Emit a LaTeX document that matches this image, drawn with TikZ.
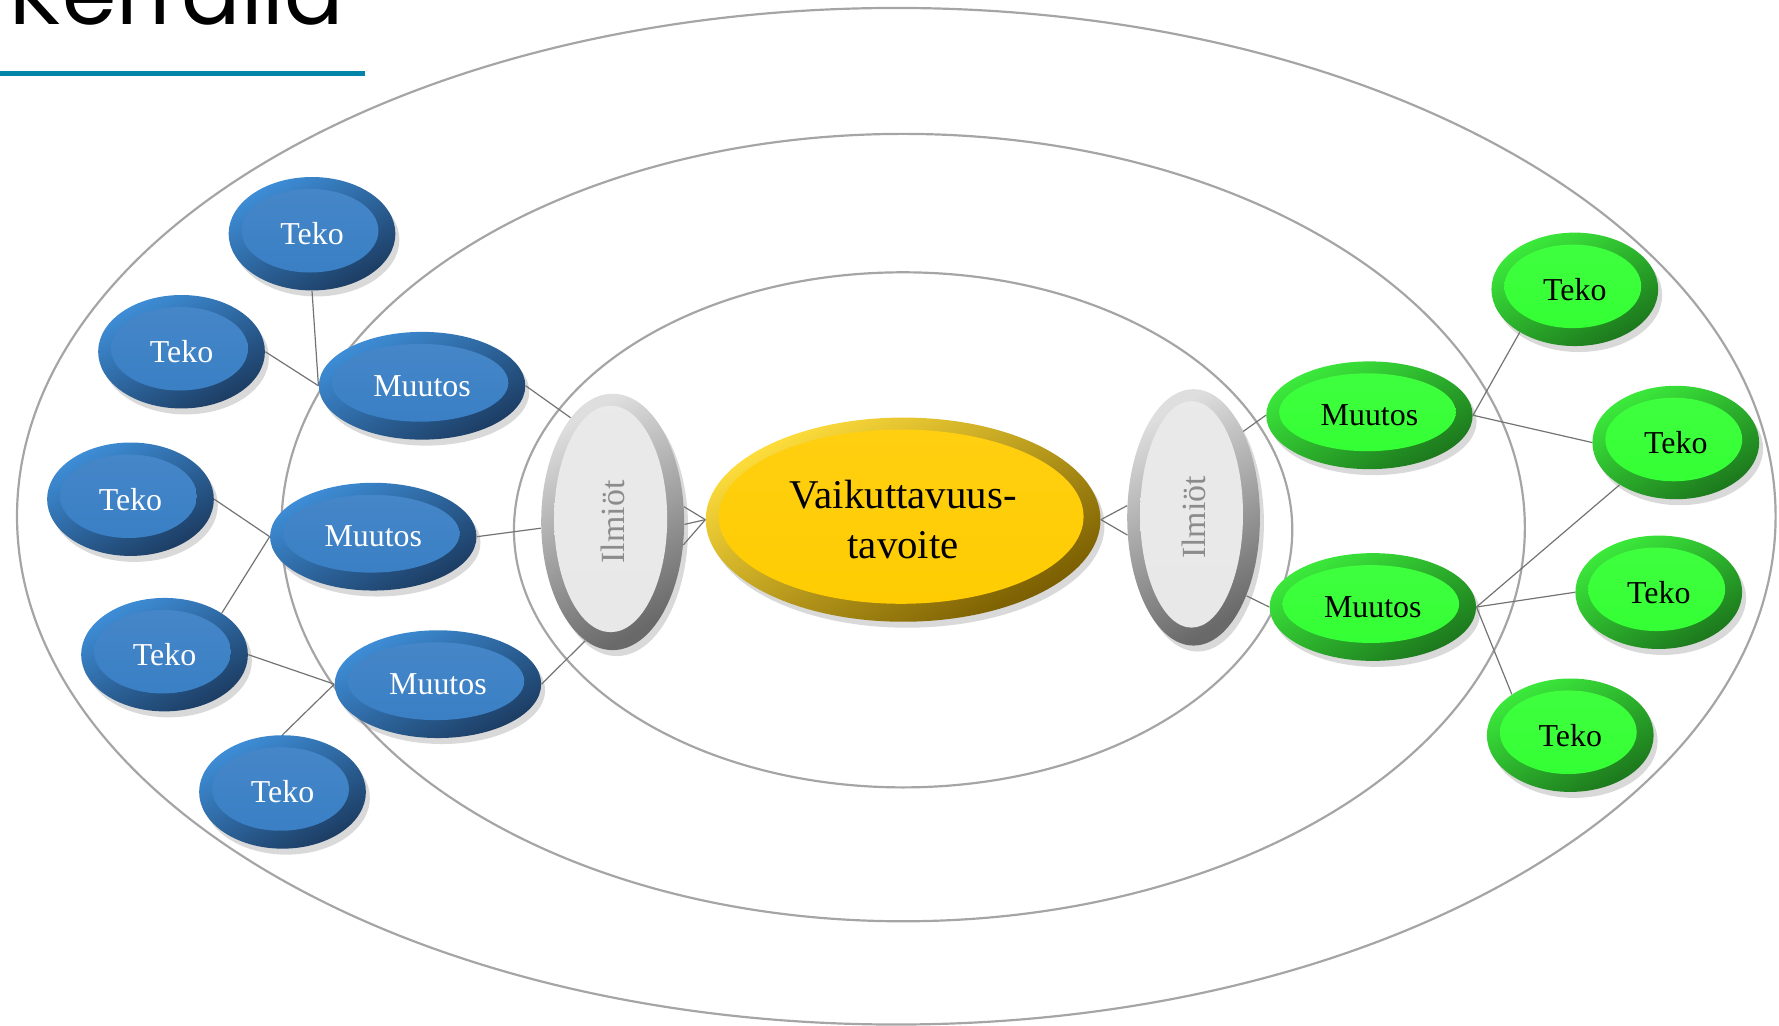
\documentclass[tikz,border=0pt]{standalone}
\usepackage{fontspec}
\setmainfont{Liberation Serif}
\newfontfamily\otsikkofont{Poppins}
\usepackage{tikz}
\usetikzlibrary{calc,shapes,shadows}
\definecolor{Otsikko}{RGB}{0,133,168}
\definecolor{Kehys}{RGB}{165,165,165}
\definecolor{Viiva}{RGB}{115,115,115}
\definecolor{Sini}{RGB}{56,126,196}
\definecolor{SiniYla}{RGB}{62,142,216}
\definecolor{SiniAla}{RGB}{28,60,98}
\definecolor{Vihrea}{RGB}{50,255,50}
\definecolor{VihreaYla}{RGB}{60,235,60}
\definecolor{VihreaAla}{RGB}{28,118,28}
\definecolor{Kulta}{RGB}{255,204,0}
\definecolor{KultaYla}{RGB}{255,222,60}
\definecolor{KultaAla}{RGB}{120,92,0}
\definecolor{Harmaa}{RGB}{232,232,232}
\definecolor{HarmaaYla}{RGB}{222,222,222}
\definecolor{HarmaaAla}{RGB}{105,105,105}

\tikzset{
  kuori/.style n args={3}{ellipse, inner sep=0pt, top color=#1, bottom color=#2, shading angle=30,
    drop shadow={shadow xshift=2pt, shadow yshift=-3pt, opacity=.3},
    path picture={\shade[top color=#3!93!white, bottom color=#3] let \p1=(path picture bounding box.north east),
        \p2=(path picture bounding box.south west) in
        ($(\p1)!.5!(\p2)+(-1pt,1.5pt)$) ellipse [x radius={(\x1-\x2)/2-7.5pt}, y radius={(\y1-\y2)/2-7.5pt}];}},
  teko/.style={kuori={SiniYla}{SiniAla}{Sini}, minimum width=2.94cm, minimum height=2cm,
    text=white, font=\fontsize{16}{19}\selectfont},
  muutos/.style={teko, minimum width=3.64cm, minimum height=1.9cm},
  tekog/.style={kuori={VihreaYla}{VihreaAla}{Vihrea}, minimum width=2.94cm, minimum height=2cm,
    text=black, font=\fontsize{16}{19}\selectfont},
  muutosg/.style={tekog, minimum width=3.64cm, minimum height=1.9cm},
  ilmio/.style={kuori={HarmaaYla}{HarmaaAla}{Harmaa}, minimum height=4.52cm},
  ilmioteksti/.style={text=black!45, font=\fontsize{17}{20}\selectfont, rotate=90},
  tavoite/.style={kuori={KultaYla}{KultaAla}{Kulta}, minimum width=6.96cm, minimum height=3.6cm,
    align=center, font=\fontsize{20.5}{25}\selectfont},
  yhteys/.style={draw=Viiva, line width=0.6pt},
  kehä/.style={draw=Kehys, line width=1.1pt}
}

\begin{document}
\begin{tikzpicture}[x=0.02cm, y=-0.02cm]
\useasboundingbox (0,0) rectangle (1568,904);
% otsikko
\node[anchor=base west, inner sep=0pt, font=\otsikkofont\fontsize{44}{50}\selectfont] (otsikko) at (8,22) {Kerralla};
\draw[Otsikko, line width=2.6pt] (0,65) -- (322,65);
% kehät
\draw[kehä] (790,455) ellipse [x radius=775, y radius=448];
\draw[kehä] (796,465) ellipse [x radius=548, y radius=347];
\draw[kehä] (796,467) ellipse [x radius=343, y radius=227];
%
% vasen puoli
\node[teko] (tb1) at (275,206) {Teko};
\node[teko] (tb2) at (160,310) {Teko};
\node[teko] (tb3) at (115,440) {Teko};
\node[teko] (tb4) at (145,577) {Teko};
\node[teko] (tb5) at (249,698) {Teko};
\node[muutos] (mb1) at (372,340) {Muutos};
\node[muutos] (mb2) at (329,473) {Muutos};
\node[muutos] (mb3) at (386,603) {Muutos};
\node[ilmio, minimum width=2.52cm] (ill) at (540,460) {};
\node[ilmioteksti] (illt) at (ill.center) {Ilmiöt};
%
% keskusta
\node[tavoite] (tav) at (796,458) {Vaikuttavuus-\\tavoite};
%
% oikea puoli
\node[ilmio, minimum width=2.34cm] (ilr) at (1052,456) {};
\node[ilmioteksti] (ilrt) at (ilr.center) {Ilmiöt};
\node[muutosg] (mg1) at (1207,366) {Muutos};
\node[muutosg] (mg2) at (1210,535) {Muutos};
\node[tekog] (tg1) at (1388,255) {Teko};
\node[tekog] (tg2) at (1477,390) {Teko};
\node[tekog] (tg3) at (1462,522) {Teko};
\node[tekog] (tg4) at (1384,648) {Teko};
%
% yhteydet
\draw[yhteys] (tb1.south) -- (mb1.west);
\draw[yhteys] (tb2.east) -- (mb1.west);
\draw[yhteys] (tb3.east) -- (mb2.west);
\draw[yhteys] (tb4.36) -- (mb2.west);
\draw[yhteys] (tb4.east) -- (mb3.west);
\draw[yhteys] (tb5.north) -- (mb3.west);
\draw[yhteys] (mb1.east) -- (ill.112);
\draw[yhteys] (mb2.east) -- (ill.185);
\draw[yhteys] (mb3.east) -- (ill.257);
\foreach \k in {12,-2,-18}
  \draw[yhteys] (ill.\k) -- (tav.west);
\foreach \k in {170,195}
  \draw[yhteys] (tav.east) -- (ilr.\k);
\draw[yhteys] (ilr.60) -- (mg1.west);
\draw[yhteys] (ilr.-56) -- (mg2.west);
\draw[yhteys] (mg1.east) -- (tg1.218);
\draw[yhteys] (mg1.east) -- (tg2.west);
\draw[yhteys] (mg2.east) -- (tg2.217);
\draw[yhteys] (mg2.east) -- (tg3.west);
\draw[yhteys] (mg2.east) -- (tg4.145);
\end{tikzpicture}
\end{document}
